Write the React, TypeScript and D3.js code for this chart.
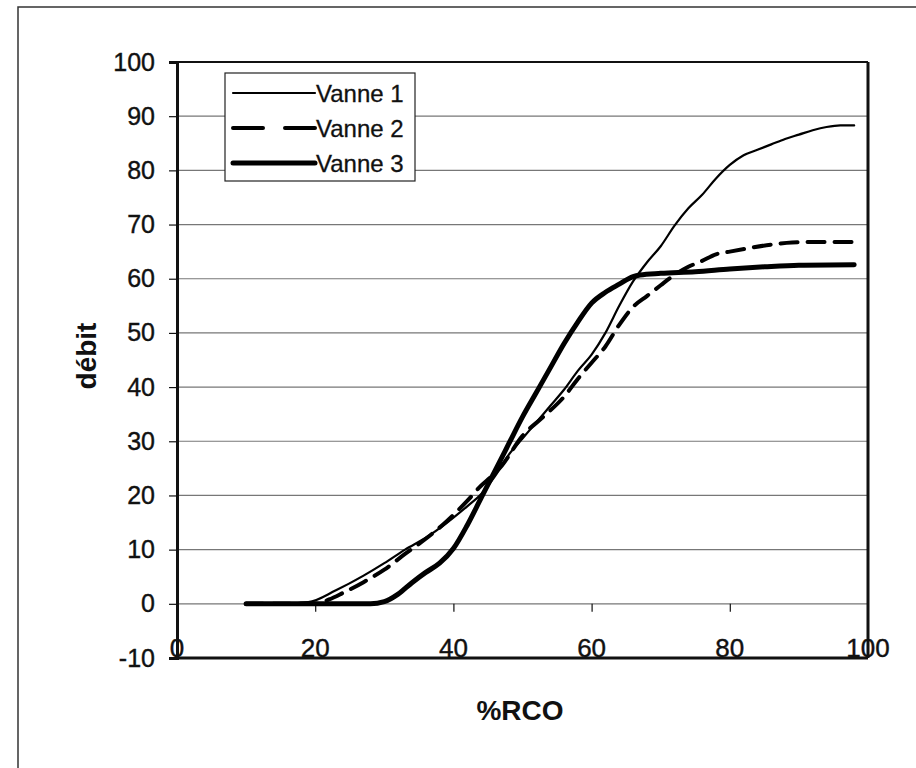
import React, { useRef, useEffect } from 'react';
import * as d3 from 'd3';

// values (x = %RCO, y = débit)
const vanne1X = [10, 15, 19, 23, 27, 30, 33, 36, 39, 42, 44, 46, 48, 50, 52, 54, 56, 58, 60, 62, 64, 66, 68, 70, 72, 74, 76, 78, 80, 82, 84, 86, 88, 90, 92, 94, 96, 98];
const vanne1Y = [0, 0, 0.3, 2.5, 5.2, 7.5, 10, 12.2, 14.9, 18, 20.2, 23.5, 27.5, 30.5, 33.5, 36.5, 39.5, 43, 46, 50, 55, 59.5, 63, 66, 69.8, 73, 75.5, 78.5, 81, 82.8, 83.8, 84.8, 85.8, 86.6, 87.4, 88, 88.3, 88.3];

const vanne2X = [10, 15, 20, 22, 24, 27, 30, 33, 36, 39, 42, 44, 45.5, 47, 50, 53, 56, 58, 60, 62, 64, 66, 68, 70, 72, 74, 76, 78, 80, 83, 86, 89, 92, 98];
const vanne2Y = [0, 0, 0, 0.8, 2, 4, 6.3, 9.2, 12, 15.2, 19, 21.8, 23.5, 25.5, 31, 34.5, 38.2, 41.5, 44.5, 47.5, 51.5, 54.8, 56.8, 58.8, 60.7, 62.2, 63.3, 64.5, 65, 65.7, 66.3, 66.7, 66.8, 66.8];

const vanne3X = [10, 20, 28, 30, 32, 34, 36, 38, 40, 42, 44, 46, 48, 50, 52, 54, 56, 58, 60, 62, 64, 66, 67, 70, 75, 80, 85, 90, 98];
const vanne3Y = [0, 0, 0, 0.4, 1.8, 3.9, 5.8, 7.5, 10.2, 14.5, 19.5, 24.5, 29.5, 34.5, 39, 43.5, 48, 52, 55.5, 57.5, 59, 60.4, 60.7, 61, 61.3, 61.8, 62.2, 62.5, 62.6];

const seriesNames = ['Vanne 1', 'Vanne 2', 'Vanne 3'];
const xTicks = [0, 20, 40, 60, 80, 100];
const yTicks = [-10, 0, 10, 20, 30, 40, 50, 60, 70, 80, 90, 100];

const FONT = '"Liberation Sans", Arial, sans-serif';

const styles = [
  { width: 2.2, dash: null },
  { width: 4, dash: '17,10' },
  { width: 5, dash: null },
];

export default function App() {
  const svgRef = useRef<SVGSVGElement | null>(null);

  useEffect(() => {
    const svg = d3.select(svgRef.current);
    svg.selectAll('*').remove();

    const left = 177, right = 868, top = 62, bottom = 658;
    const x = d3.scaleLinear().domain([0, 100]).range([left, right]);
    const y = d3.scaleLinear().domain([-10, 100]).range([bottom, top]);

    // outer chart frame
    svg.append('rect')
      .attr('x', 18).attr('y', 7)
      .attr('width', 950).attr('height', 800)
      .attr('fill', 'white').attr('stroke', '#333').attr('stroke-width', 1.5);

    // horizontal gridlines
    svg.append('g')
      .selectAll('line')
      .data(yTicks.filter(t => t > -10 && t < 100))
      .join('line')
      .attr('x1', left).attr('x2', right)
      .attr('y1', d => y(d)).attr('y2', d => y(d))
      .attr('stroke', '#777').attr('stroke-width', 1.2);

    // plot frame
    svg.append('line').attr('x1', left).attr('x2', right).attr('y1', top).attr('y2', top)
      .attr('stroke', '#111').attr('stroke-width', 2);
    svg.append('line').attr('x1', right).attr('x2', right).attr('y1', top).attr('y2', bottom)
      .attr('stroke', '#111').attr('stroke-width', 3);
    svg.append('line').attr('x1', left).attr('x2', right).attr('y1', bottom).attr('y2', bottom)
      .attr('stroke', '#111').attr('stroke-width', 3);

    // y axis
    const yAxis = svg.append('g')
      .attr('transform', `translate(${left},0)`)
      .call(d3.axisLeft(y).tickValues(yTicks).tickSize(8).tickPadding(14).tickFormat(d => String(d)));
    yAxis.select('.domain').attr('stroke', '#111').attr('stroke-width', 3);
    yAxis.selectAll('.tick line').attr('stroke', '#111').attr('stroke-width', 1.2);
    yAxis.selectAll('text')
      .attr('font-family', FONT).attr('font-size', 25).attr('fill', '#111')
      .attr('stroke', '#111').attr('stroke-width', 0.4);

    // x axis crossing at y = 0, labels sitting on the bottom edge
    const xAxis = svg.append('g')
      .attr('transform', `translate(0,${y(0)})`)
      .call(d3.axisBottom(x).tickValues(xTicks.filter(t => t > 0 && t < 100)).tickSize(8).tickFormat(() => ''));
    xAxis.select('.domain').remove();
    xAxis.selectAll('.tick line').attr('stroke', '#111').attr('stroke-width', 1.2);

    svg.append('g')
      .selectAll('text')
      .data(xTicks)
      .join('text')
      .attr('x', d => x(d))
      .attr('y', bottom - 1)
      .attr('text-anchor', 'middle')
      .attr('font-family', FONT).attr('font-size', 26).attr('fill', '#111')
      .attr('stroke', '#111').attr('stroke-width', 0.4)
      .text(d => d);

    // series
    const line = d3.line<[number, number]>()
      .x(d => x(d[0]))
      .y(d => y(d[1]))
      .curve(d3.curveMonotoneX);

    const series: [number, number][][] = [
      vanne1X.map((v, i) => [v, vanne1Y[i]]),
      vanne2X.map((v, i) => [v, vanne2Y[i]]),
      vanne3X.map((v, i) => [v, vanne3Y[i]]),
    ];

    series.forEach((pts, i) => {
      svg.append('path')
        .datum(pts)
        .attr('d', line)
        .attr('fill', 'none')
        .attr('stroke', '#000')
        .attr('stroke-width', styles[i].width)
        .attr('stroke-linecap', 'round')
        .attr('stroke-linejoin', 'round')
        .attr('stroke-dasharray', styles[i].dash);
    });

    // legend
    const lg = svg.append('g');
    lg.append('rect')
      .attr('x', 225).attr('y', 73).attr('width', 190).attr('height', 108)
      .attr('fill', 'white').attr('stroke', '#222').attr('stroke-width', 1.2);
    seriesNames.forEach((name, i) => {
      const cy = 93 + i * 35;
      lg.append('line')
        .attr('x1', 233).attr('x2', 315).attr('y1', cy).attr('y2', cy)
        .attr('stroke', '#000').attr('stroke-width', styles[i].width)
        .attr('stroke-linecap', 'round')
        .attr('stroke-dasharray', i === 1 ? '30,22' : null);
      lg.append('text')
        .attr('x', 316).attr('y', cy)
        .attr('dy', '0.36em')
        .attr('font-family', FONT).attr('font-size', 24).attr('fill', '#111')
        .attr('stroke', '#111').attr('stroke-width', 0.3)
        .text(name);
    });

    // axis titles
    svg.append('text')
      .attr('transform', `translate(96,356) rotate(-90)`)
      .attr('text-anchor', 'middle')
      .attr('font-family', FONT).attr('font-size', 28).attr('font-weight', 'bold').attr('fill', '#111')
      .text('débit');

    svg.append('text')
      .attr('x', 520).attr('y', 720)
      .attr('text-anchor', 'middle')
      .attr('font-family', FONT).attr('font-size', 28).attr('font-weight', 'bold').attr('fill', '#111')
      .text('%RCO');
  }, []);

  return (
    <svg
      ref={svgRef}
      width={916}
      height={768}
      style={{ position: 'absolute', left: 0, top: 0, background: 'white' }}
    />
  );
}
